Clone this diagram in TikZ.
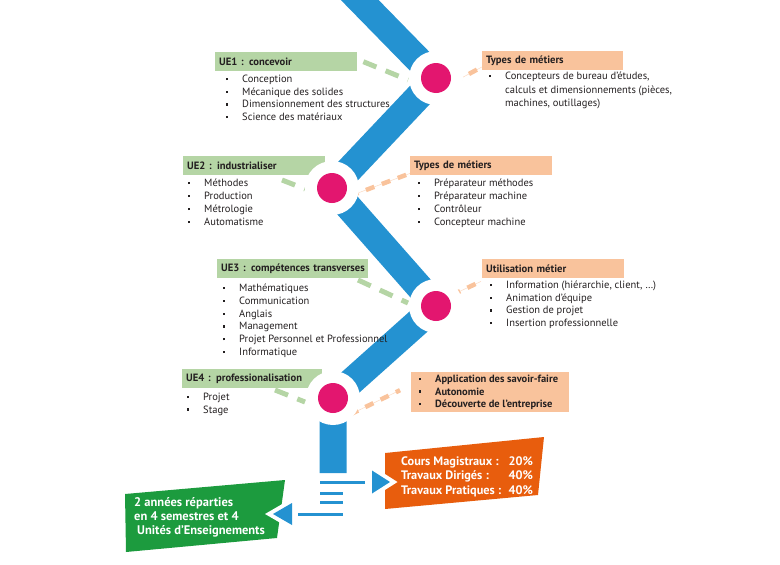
\documentclass[tikz,border=0pt]{standalone}
\usepackage{fontspec}
\setmainfont{PT Sans}
\usetikzlibrary{calc}
\pgfdeclarelayer{bg}
\pgfsetlayers{bg,main}
\definecolor{bandblue}{HTML}{2492D1}
\definecolor{dotpink}{HTML}{E3166F}
\definecolor{lgreen}{HTML}{B5D5A5}
\definecolor{lorange}{HTML}{F9C39C}
\definecolor{dgreen}{HTML}{1C9B3E}
\definecolor{dorange}{HTML}{E85D0D}
\definecolor{txt}{HTML}{231F20}
\newcommand\bul{\llap{\rule[2.4pt]{2.2pt}{2.2pt}\hspace{13.8pt}}}
\begin{document}
\begin{tikzpicture}[x=1pt,y=-1pt,
  hdr/.style={anchor=north west, inner xsep=4pt, inner ysep=0pt, minimum height=19pt, align=left, font=\fontsize{10.6}{12}\selectfont\bfseries, text=txt},
  ghdr/.style={hdr, fill=lgreen},
  ohdr/.style={hdr, fill=lorange},
  bitem/.style={anchor=west, inner sep=0pt, text height=7.5pt, text depth=2.5pt, font=\fontsize{10.5}{12}\selectfont, text=txt},
  bbitem/.style={bitem, font=\fontsize{10.5}{12}\selectfont\bfseries},
  gdash/.style={lgreen, line width=5pt, dash pattern=on 14pt off 10pt},
  odash/.style={lorange, line width=4.5pt, dash pattern=on 9pt off 8pt},
  othin/.style={draw=lorange!60, line width=0.5pt},
  whitering/.style={circle, fill=white, minimum size=54pt, inner sep=0pt},
  pinkdot/.style={circle, fill=dotpink, minimum size=30pt, inner sep=0pt},
  bluebar/.style={bandblue, line width=3pt},
]
\useasboundingbox (0,0) rectangle (780,565);
\clip (0,0) rectangle (780,565);

% headers
\node[ghdr, text width=134pt] (ue1h) at (215,52) {UE1 : concevoir};
\node[ohdr, text width=133pt] (t1h) at (482,51) {Types de métiers};
\node[ghdr, text width=134pt] (ue2h) at (183,156) {UE2 : industrialiser};
\node[ohdr, text width=134pt] (t2h) at (410,156) {Types de métiers};
\node[ghdr, text width=143pt] (ue3h) at (217,259) {\mbox{UE3 : compétences transverses}};
\node[ohdr, text width=134pt] (t3h) at (482,259) {Utilisation métier};
\node[ghdr, text width=132pt] (ue4h) at (182,369) {UE4 : professionalisation};
\node[fill=lorange, minimum width=158pt, minimum height=40pt, anchor=north west, inner sep=0pt] (app) at (411,372) {};

% lists
\foreach \t [count=\i] in {Conception, Mécanique des solides, Dimensionnement des structures, Science des matériaux}
  \node[bitem] (ue1l\i) at (242,{80+12.7*(\i-1)}) {\bul\t};
\node[bitem] (t1l1) at (505,77) {\bul Concepteurs de bureau d'études,};
\node[bitem] (t1l2) at (505,90.5) {calculs et dimensionnements (pièces,};
\node[bitem] (t1l3) at (505,104) {machines, outillages)};
\foreach \t [count=\i] in {Méthodes, Production, Métrologie, Automatisme}
  \node[bitem] (ue2l\i) at (204,{184+13*(\i-1)}) {\bul\t};
\foreach \t [count=\i] in {Préparateur méthodes, Préparateur machine, Contrôleur, Concepteur machine}
  \node[bitem] (t2l\i) at (434,{184+13*(\i-1)}) {\bul\t};
\foreach \t [count=\i] in {Mathématiques, Communication, Anglais, Management, Projet Personnel et Professionnel, Informatique}
  \node[bitem] (ue3l\i) at (239,{289+12.8*(\i-1)}) {\bul\t};
\foreach \t [count=\i] in {{Information (hiérarchie, client, …)}, Animation d'équipe, Gestion de projet, Insertion professionnelle}
  \node[bitem] (t3l\i) at (506,{286+12.7*(\i-1)}) {\bul\t};
\foreach \t [count=\i] in {Projet, Stage}
  \node[bitem] (ue4l\i) at (203,{398+12.5*(\i-1)}) {\bul\t};
\foreach \t [count=\i] in {Application des savoir-faire, Autonomie, Découverte de l'entreprise}
  \node[bbitem] (appl\i) at (435,{380+12.5*(\i-1)}) {\bul\t};

% rings and dots
\node[whitering] (c1) at (436,78) {};
\node[whitering] (c2) at (332,188) {};
\node[whitering] (c3) at (436,306) {};
\node[whitering] (c4) at (333,398) {};
\foreach \k in {1,2,3,4} \node[pinkdot] (d\k) at (c\k) {};

% bottom part
\coordinate (bot) at (332,473);
\fill[dorange] (385,453) -- (544,437) -- (538,495) -- (385,509) -- cycle;
\fill[dgreen] (125,494) -- (285,480) -- (277,538) -- (126,552) -- cycle;
\fill[white] (372,465.8) -- (397.5,482) -- (372,498.2) -- cycle;
\fill[bandblue] (372,470.5) -- (390,482) -- (372,493.5) -- cycle;
\fill[white] (292,498.4) -- (265,514) -- (292,529.6) -- cycle;
\fill[bandblue] (292,503) -- (273,514) -- (292,525) -- cycle;
\draw[bluebar] (320,482) -- (365,482);
\draw[bluebar] (320,493) -- (343,493);
\draw[bluebar] (320,502) -- (343,502);
\draw[bluebar] (298,514) -- (343,514);

\node[anchor=base west, inner sep=0pt, text=white, font=\fontsize{12.3}{14.5}\selectfont\bfseries] (pct) at (401,465)
  {\begin{tabular}[t]{@{}p{107.5pt}@{}l@{}}Cours Magistraux : & 20\%\\ Travaux Dirigés : & 40\%\\ Travaux Pratiques : & 40\%\end{tabular}};
\node[anchor=base west, inner sep=0pt, text=white, font=\fontsize{12.5}{14}\selectfont\bfseries] (dur) at (134,506)
  {\begin{tabular}[t]{@{}l@{}}2 années réparties\\ en 4 semestres et 4\\ \hspace{3pt}Unités d'Enseignements\end{tabular}};

\begin{pgfonlayer}{bg}
\draw[bandblue, line width=27pt] (348,-12) -- (c1.center) -- (c2.center) -- (c3.center) -- (c4.center) -- (c4.center |- bot);
\draw[gdash] ($(ue1h.east)+(6,0)$) -- ($(c1.center)+(-28,2)$);
\draw[gdash] ($(c2.center)+(-50,-8)$) -- ($(c2.center)+(-27,1)$);
\draw[gdash] ($(c3.center)+(-78,-26)$) -- ($(c3.center)+(-28,-3)$);
\draw[gdash] ($(c4.center)+(-58,-8)$) -- ($(c4.center)+(-28,4)$);
\draw[othin] ($(c1.center)+(18,4)$) -- ($(t1h.south west)+(1,-4)$);
\draw[odash] ($(c1.center)+(18,4)$) -- ($(t1h.south west)+(1,-4)$);
\draw[othin] ($(c2.center)+(18,8)$) -- ($(t2h.south west)+(0,-2)$);
\draw[odash] ($(c2.center)+(18,8)$) -- ($(t2h.south west)+(0,-2)$);
\draw[othin] ($(c3.center)+(16,-11)$) -- ($(t3h.south west)+(-1,3)$);
\draw[odash] ($(c3.center)+(16,-11)$) -- ($(t3h.south west)+(-1,3)$);
\draw[othin] ($(c4.center)+(17,16.5)$) -- ($(app.west)+(-11,-2)$);
\draw[odash] ($(c4.center)+(17,16.5)$) -- ($(app.west)+(-11,-2)$);
\end{pgfonlayer}
\end{tikzpicture}
\end{document}
